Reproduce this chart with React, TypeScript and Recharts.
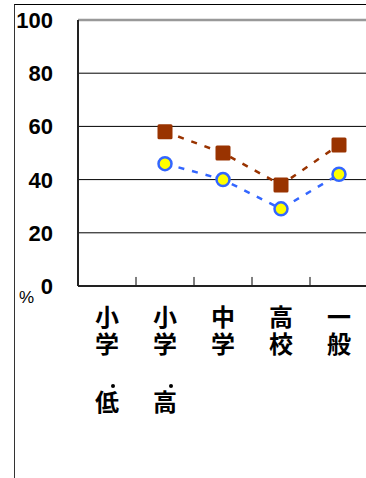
import {
  LineChart, Line, XAxis, YAxis, CartesianGrid, ReferenceLine,
} from "recharts";

const CATEGORIES = [
  ["小", "学", "低"],
  ["小", "学", "高"],
  ["中", "学"],
  ["高", "校"],
  ["一", "般"],
];
const SERIES_BROWN = [null, 58, 50, 38, 53];
const SERIES_BLUE = [null, 46, 40, 29, 42];
const Y_TICKS = [0, 20, 40, 60, 80, 100];
// categories whose left edge carries a small inner tick
const BOUNDARIES = ["1", "2", "3", "4"];

const data = CATEGORIES.map((c, i) => ({
  name: String(i),
  brown: SERIES_BROWN[i],
  blue: SERIES_BLUE[i],
}));

const JP = '"Noto Sans CJK JP", sans-serif';

function CatTick({ x, payload }: any) {
  const chars = CATEGORIES[Number(payload.value)];
  return (
    <g>
      <text textAnchor="middle" fontFamily={JP} fontWeight={700} fontSize={24} fill="#000">
        <tspan x={x} y={326}>{chars[0]}</tspan>
        <tspan x={x} y={353}>{chars[1]}</tspan>
        {chars[2] && <tspan x={x} y={411}>{chars[2]}</tspan>}
      </text>
      {chars[2] && <circle cx={x + 6} cy={386} r={2} fill="#000" />}
    </g>
  );
}

function ValTick({ y, payload }: any) {
  return (
    <text x={53} y={y + 8} textAnchor="end" fontFamily="Arial, 'Liberation Sans'" fontWeight={700} fontSize={22} fill="#000">
      {payload.value}
    </text>
  );
}

function Square({ cx, cy }: any) {
  if (cx == null || cy == null) return null;
  return <rect x={cx - 7.5} y={cy - 7.5} width={15} height={15} rx={1.5} fill="#993300" />;
}

function Dot({ cx, cy }: any) {
  if (cx == null || cy == null) return null;
  return <circle cx={cx} cy={cy} r={6.5} fill="#ffff00" stroke="#3366ff" strokeWidth={2.5} />;
}

export default function App() {
  return (
    <div style={{ position: "fixed", left: 0, top: 0, width: 366, height: 478, overflow: "hidden", background: "#fff" }}>
      <div style={{ position: "absolute", left: 14, top: 4, right: 0, bottom: 0, borderLeft: "1.5px solid #333", borderTop: "1.5px solid #000" }} />
      <div style={{ position: "absolute", left: 19, top: 288, fontFamily: "Arial, 'Liberation Sans'", fontSize: 17 }}>%</div>
      <LineChart
        width={370}
        height={478}
        data={data}
        margin={{ top: 20, right: 2, left: 14, bottom: 162 }}
        style={{ position: "absolute", left: 0, top: 0 }}
      >
        <CartesianGrid horizontal vertical={false} stroke="#000" strokeWidth={1} />
        <XAxis
          dataKey="name"
          scale="band"
          height={30}
          axisLine={{ stroke: "#222", strokeWidth: 2 }}
          tickLine={false}
          tick={<CatTick />}
          interval={0}
        />
        <YAxis
          domain={[0, 100]}
          ticks={Y_TICKS}
          width={64}
          axisLine={{ stroke: "#222", strokeWidth: 2 }}
          tickLine={false}
          tick={<ValTick />}
        />
        <ReferenceLine y={100} stroke="#999" strokeWidth={2.5} />
        {BOUNDARIES.map((b) => (
          <ReferenceLine
            key={b}
            position="start"
            segment={[{ x: b, y: 0 }, { x: b, y: 3.4 }]}
            stroke="#000"
            strokeWidth={1}
          />
        ))}
        <Line
          dataKey="brown"
          stroke="#993300"
          strokeWidth={2.5}
          strokeDasharray="6 8"
          dot={<Square />}
          isAnimationActive={false}
        />
        <Line
          dataKey="blue"
          stroke="#3366ff"
          strokeWidth={2.5}
          strokeDasharray="6 8"
          dot={<Dot />}
          isAnimationActive={false}
        />
      </LineChart>
    </div>
  );
}
